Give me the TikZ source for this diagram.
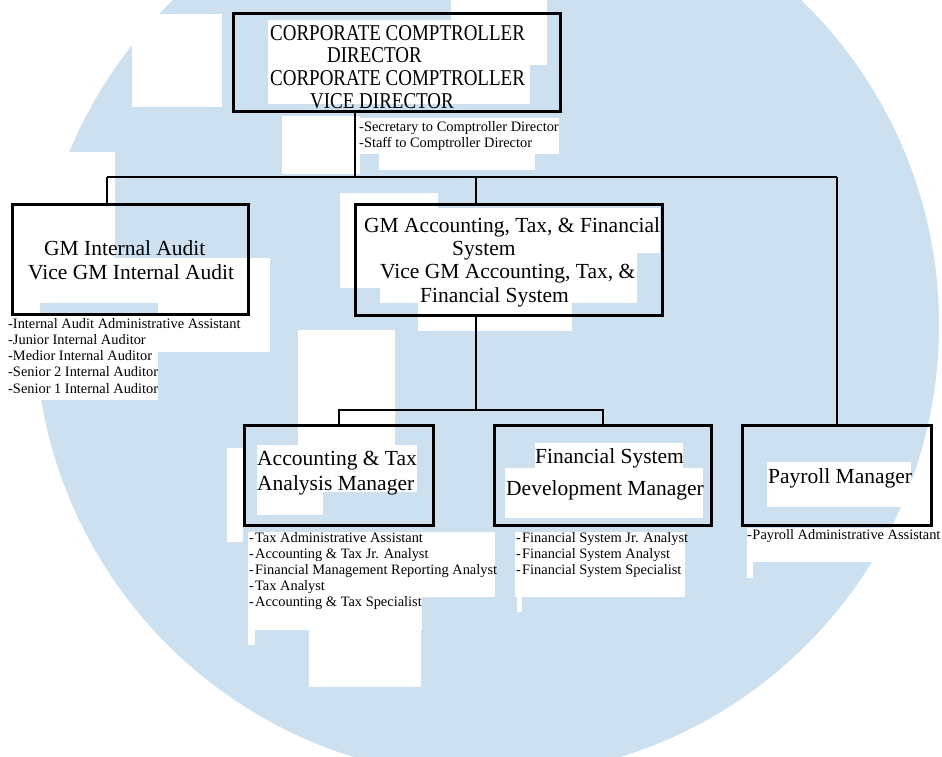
\documentclass[tikz,border=0pt]{standalone}
\usepackage{fontspec}
\setmainfont{Liberation Serif}
\newfontfamily\topfont[FakeStretch=0.84]{Liberation Serif}
\definecolor{wmblue}{RGB}{204,224,240}
\begin{document}
\begin{tikzpicture}[x=1pt,y=-1pt,
  box/.style={draw, line width=3pt, inner sep=0pt},
  conn/.style={line width=1.1pt},
  patch/.style={fill=white},
  toptxt/.style={font=\topfont\fontsize{22.6}{23}\selectfont, anchor=base west, inner sep=0pt},
  bigtxt/.style={font=\fontsize{21.5}{24}\selectfont, anchor=base west, inner sep=0pt},
  smalltxt/.style={font=\fontsize{14.4}{16}\selectfont, anchor=base west, inner sep=0pt}]
\useasboundingbox (0,0) rectangle (942,756);
% watermark circle
\begin{scope}
  \clip (0,0) rectangle (942,756);
  \fill[wmblue] (487,325) circle[radius=452];
\end{scope}
% white patches of the scan
\foreach \a/\b/\c/\d in {132/14/222/107, 451/0/547/65, 268/20/530/104, 282/116/360/174,
  357/118/559/154, 379/154/535/170, 340/193/438/288, 363/208/660/253, 380/253/637/303,
  418/303/572/331, 0/152/115/303, 28/258/270/303, 158/258/270/352, 0/303/40/316,
  7/316/240/352, 7/352/158/400, 298/330/395/445, 227/448/243/542, 257/445/417/492,
  257/492/323/515, 248/532/495/597, 248/597/422/630, 309/597/421/687, 248/630/255/645,
  535/443/683/468, 505/468/703/518, 515/532/685/597, 517/597/522/612, 767/462/911/507,
  747/528/942/562, 747/562/753/578}
  \fill[white] (\a,\b) rectangle (\c,\d);
% boxes
\node[box, minimum width=327pt, minimum height=98pt] (top) at (397,62.5) {};
\node[box, minimum width=235.5pt, minimum height=109.5pt] (ia) at (130.25,259.25) {};
\node[box, minimum width=307pt, minimum height=111.5pt] (atfs) at (509,259.75) {};
\node[box, minimum width=189pt, minimum height=100pt] (at) at (339,475.5) {};
\node[box, minimum width=217pt, minimum height=100pt] (fsd) at (603,475.5) {};
\node[box, minimum width=189pt, minimum height=99.5pt] (pay) at (837,475.25) {};
% connectors
\coordinate (j0) at (355,177);
\coordinate (busL) at (107,177);
\coordinate (busM) at (476,177);
\coordinate (busR) at (837,177);
\coordinate (j2) at (476,410);
\draw[conn] (top.south -| j0) -- (j0);
\draw[conn] (busL) -- (busR);
\draw[conn] (busL) -- (ia.north -| busL);
\draw[conn] (busM) -- (atfs.north -| busM);
\draw[conn] (busR) -- (pay.north);
\draw[conn] (atfs.south -| j2) -- (j2);
\draw[conn] (at.north) |- (j2) -| (fsd.north);
% top box text
\node[toptxt] (t1) at (270,40) {CORPORATE COMPTROLLER};
\node[toptxt] (t2) at (327,62.7) {DIRECTOR};
\node[toptxt] (t3) at (270,85.3) {CORPORATE COMPTROLLER};
\node[toptxt] (t4) at (310,108) {VICE DIRECTOR};
\node[smalltxt] (s1) at (359,131) {-Secretary to Comptroller Director};
\node[smalltxt] (s2) at (359,147) {-Staff to Comptroller Director};
% internal audit
\node[bigtxt] (ia1) at (44,255) {GM Internal Audit};
\node[bigtxt] (ia2) at (28,279) {Vice GM Internal Audit};
\foreach \t [count=\i from 0] in {Internal Audit Administrative Assistant, Junior Internal Auditor,
  Medior Internal Auditor, Senior 2 Internal Auditor, Senior 1 Internal Auditor}
  \node[smalltxt] (ial\i) at ({8},{328+16.25*\i}) {-\t};
% accounting, tax & financial system
\node[bigtxt] (g1) at (364,232) {GM Accounting, Tax, \& Financial};
\node[bigtxt] (g2) at (452,255) {System};
\node[bigtxt] (g3) at (380,278) {Vice GM Accounting, Tax, \&};
\node[bigtxt] (g4) at (420,302) {Financial System};
% accounting & tax analysis manager
\node[bigtxt] (a1) at (257,465) {Accounting \& Tax};
\node[bigtxt] (a2) at (257,490) {Analysis Manager};
\foreach \t [count=\i from 0] in {Tax Administrative Assistant, Accounting \& Tax Jr. Analyst,
  Financial Management Reporting Analyst, Tax Analyst, Accounting \& Tax Specialist}
  \node[smalltxt] (atl\i) at ({249},{542+16*\i}) {-\kern1.2pt\t};
% financial system development manager
\node[bigtxt] (f1) at (535,463) {Financial System};
\node[bigtxt] (f2) at (506,495) {Development Manager};
\foreach \t [count=\i from 0] in {Financial System Jr. Analyst, Financial System Analyst,
  Financial System Specialist}
  \node[smalltxt] (fsl\i) at ({516},{542+16*\i}) {-\kern1.2pt\t};
% payroll
\node[bigtxt] (p1) at (768,483) {Payroll Manager};
\node[smalltxt] (pl0) at (747,539) {-\kern0.5pt Payroll Administrative Assistant};
\end{tikzpicture}
\end{document}
